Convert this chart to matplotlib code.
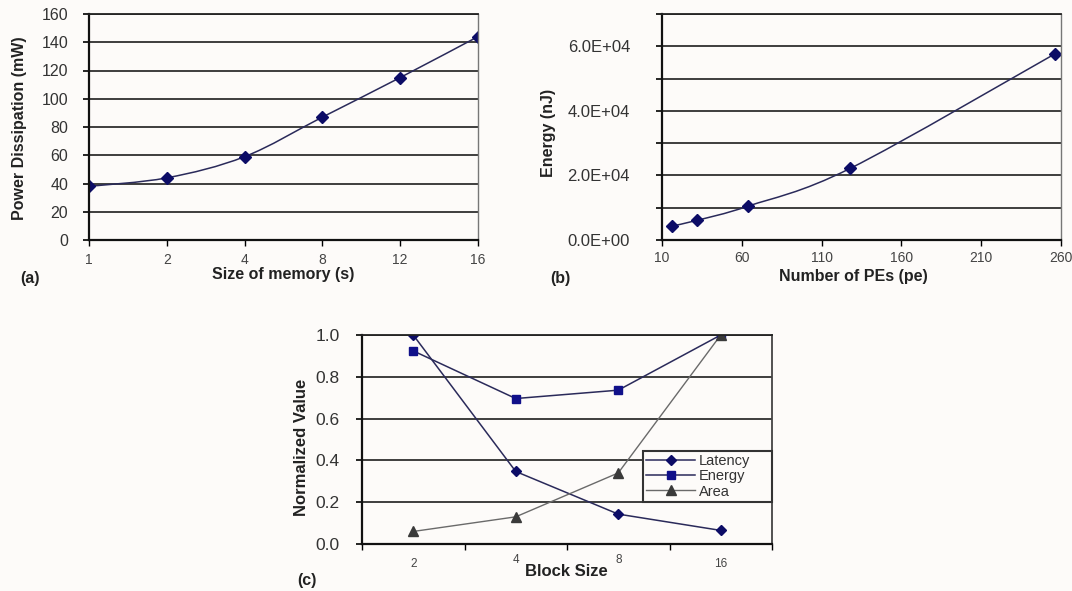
import numpy as np
import matplotlib
matplotlib.use("Agg")
import matplotlib.pyplot as plt
from matplotlib.path import Path
from matplotlib.patches import PathPatch
from matplotlib.transforms import blended_transform_factory, ScaledTranslation

plt.rcParams['font.family'] = ['Liberation Sans', 'DejaVu Sans']

# ---------------- data ----------------
mem_labels = ['1', '2', '4', '8', '12', '16']
power_mw = [38, 44, 59, 87, 115, 144]

pe_counts = [16, 32, 64, 128, 256]
energy_nj = [4300, 6100, 10500, 22200, 57600]

block_labels = ['2', '4', '8', '16']
latency = [1.0, 0.347, 0.143, 0.065]
energy_norm = [0.924, 0.696, 0.736, 1.0]
area = [0.06, 0.13, 0.34, 1.0]

# ---------------- style ----------------
BG = '#fdfbf9'
NAVY = '#0c0c66'
LINE = '#2a2a5a'
W, H = 1072, 591
fig = plt.figure(figsize=(W / 100, H / 100), dpi=100, facecolor=BG)


def box(l, r, t, b):
    return [l / W, 1 - b / H, (r - l) / W, (b - t) / H]


def fx(x):
    return x / W


def fy(y):
    return 1 - y / H


def smooth_path(xs, ys):
    """Excel-like smoothed line: Catmull-Rom converted to cubic Bezier."""
    pts = np.column_stack([xs, ys]).astype(float)
    n = len(pts)
    verts = [pts[0]]
    codes = [Path.MOVETO]
    for i in range(n - 1):
        p0 = pts[i - 1] if i > 0 else pts[i]
        p1 = pts[i]
        p2 = pts[i + 1]
        p3 = pts[i + 2] if i + 2 < n else pts[i + 1]
        c1 = p1 + (p2 - p0) / 6.0
        c2 = p2 - (p3 - p1) / 6.0
        verts += [c1, c2, p2]
        codes += [Path.CURVE4] * 3
    return Path(verts, codes)


def style_axes(ax):
    ax.set_facecolor(BG)
    for s in ['left', 'bottom']:
        ax.spines[s].set_color('#111111')
        ax.spines[s].set_linewidth(1.6)
    ax.spines['top'].set_color('#222222')
    ax.spines['top'].set_linewidth(1.3)
    ax.spines['right'].set_color('#777777')
    ax.spines['right'].set_linewidth(1.0)
    ax.grid(axis='y', color='#1e1e1e', linewidth=1.2)
    ax.set_axisbelow(True)


# ---------------- (a) ----------------
axa = fig.add_axes(box(89, 478, 14, 240))
style_axes(axa)
xa = np.arange(len(mem_labels))
axa.add_patch(PathPatch(smooth_path(xa, power_mw), fill=False, edgecolor=LINE, linewidth=1.1))
axa.plot(xa, power_mw, linestyle='none', marker='D', markersize=6.5, color=NAVY)
axa.set_xlim(0, len(mem_labels) - 1)
axa.set_ylim(0, 160)
axa.set_yticks(np.arange(0, 161, 20))
axa.set_xticks(xa)
axa.set_xticklabels(mem_labels)
axa.tick_params(axis='y', labelsize=11.5, length=4, pad=11, labelcolor='#333333', width=1.2)
axa.tick_params(axis='x', labelsize=10, length=4, pad=5, labelcolor='#444444', width=1.0)
fig.text(fx(283), fy(274), 'Size of memory (s)', ha='center', va='center',
         fontsize=11.5, fontweight='bold', color='#222222')
fig.text(fx(20), fy(128), 'Power Dissipation (mW)', ha='center', va='center',
         rotation=90, fontsize=11.5, fontweight='bold', color='#222222')
fig.text(fx(20), fy(279), '(a)', ha='left', va='center', fontsize=11.5,
         fontweight='bold', color='#222222')

# ---------------- (b) ----------------
axb = fig.add_axes(box(662, 1061, 14, 240))
style_axes(axb)
axb.add_patch(PathPatch(smooth_path(pe_counts, energy_nj), fill=False, edgecolor=LINE, linewidth=1.1))
axb.plot(pe_counts, energy_nj, linestyle='none', marker='D', markersize=6, color=NAVY)
axb.set_xlim(10, 260)
axb.set_ylim(0, 70000)
axb.set_xticks(np.arange(10, 261, 50))
yt = np.arange(0, 70001, 10000)
axb.set_yticks(yt)
axb.set_yticklabels([f"{v:.1E}" if (v // 10000) % 2 == 0 and v < 70000 else '' for v in yt])
axb.tick_params(axis='y', labelsize=12, length=4, pad=19, labelcolor='#333333', width=1.2)
axb.tick_params(axis='x', labelsize=10, length=4, pad=4, labelcolor='#444444', width=1.0)
fig.text(fx(853), fy(276), 'Number of PEs (pe)', ha='center', va='center',
         fontsize=11.5, fontweight='bold', color='#222222')
fig.text(fx(548), fy(133), 'Energy (nJ)', ha='center', va='center',
         rotation=90, fontsize=11.5, fontweight='bold', color='#222222')
fig.text(fx(550), fy(279), '(b)', ha='left', va='center', fontsize=11.5,
         fontweight='bold', color='#222222')

# ---------------- (c) ----------------
axc = fig.add_axes(box(362, 772, 335, 544))
style_axes(axc)
axc.spines['top'].set_color('#222222')
axc.spines['right'].set_color('#444444')
axc.spines['right'].set_linewidth(1.3)
xc = np.arange(len(block_labels))
axc.plot(xc, latency, color=LINE, linewidth=1.1, marker='D', markersize=5,
         markerfacecolor=NAVY, markeredgecolor=NAVY, label='Latency')
axc.plot(xc, energy_norm, color=LINE, linewidth=1.1, marker='s', markersize=6,
         markerfacecolor='#10108a', markeredgecolor='#10108a', label='Energy')
axc.plot(xc, area, color='#6a6a6a', linewidth=1.0, marker='^', markersize=6.5,
         markerfacecolor='#3a3a3a', markeredgecolor='#3a3a3a', label='Area')
axc.set_xlim(-0.5, len(block_labels) - 0.5)
axc.set_ylim(0, 1.0)
axc.set_yticks(np.arange(0, 1.01, 0.2))
axc.set_yticklabels([f"{v:.1f}" for v in np.arange(0, 1.01, 0.2)])
axc.set_xticks(np.arange(-0.5, len(block_labels), 1.0))
axc.set_xticklabels([])
axc.tick_params(axis='y', labelsize=12.5, length=4, pad=12, labelcolor='#333333', width=1.2)
axc.tick_params(axis='x', length=4, width=1.0)
trans = blended_transform_factory(axc.transData, axc.transAxes)
raise_px = [0, 4, 4, 0]
for i, lab in enumerate(block_labels):
    t = trans + ScaledTranslation(0, raise_px[i] / 100, fig.dpi_scale_trans)
    axc.text(xc[i], -0.065, lab, transform=t, ha='center', va='top',
             fontsize=8.5, color='#444444')
leg = axc.legend(loc='lower left', bbox_to_anchor=(0.685, 0.2, 0.315, 0.255),
                 mode='expand', fontsize=10.5,
                 frameon=True, fancybox=False, handlelength=3.3, labelspacing=0.08,
                 borderpad=0.25, handletextpad=0.3, borderaxespad=0.0,
                 labelcolor='#333333')
leg.get_frame().set_edgecolor('#333333')
leg.get_frame().set_linewidth(1.5)
leg.get_frame().set_facecolor(BG)
leg.get_frame().set_alpha(1.0)
fig.text(fx(566), fy(572), 'Block Size', ha='center', va='center',
         fontsize=12, fontweight='bold', color='#222222')
fig.text(fx(302), fy(447), 'Normalized Value', ha='center', va='center',
         rotation=90, fontsize=12, fontweight='bold', color='#222222')
fig.text(fx(297), fy(580), '(c)', ha='left', va='center', fontsize=11.5,
         fontweight='bold', color='#222222')

fig.savefig('out.png', dpi=100, facecolor=BG)
